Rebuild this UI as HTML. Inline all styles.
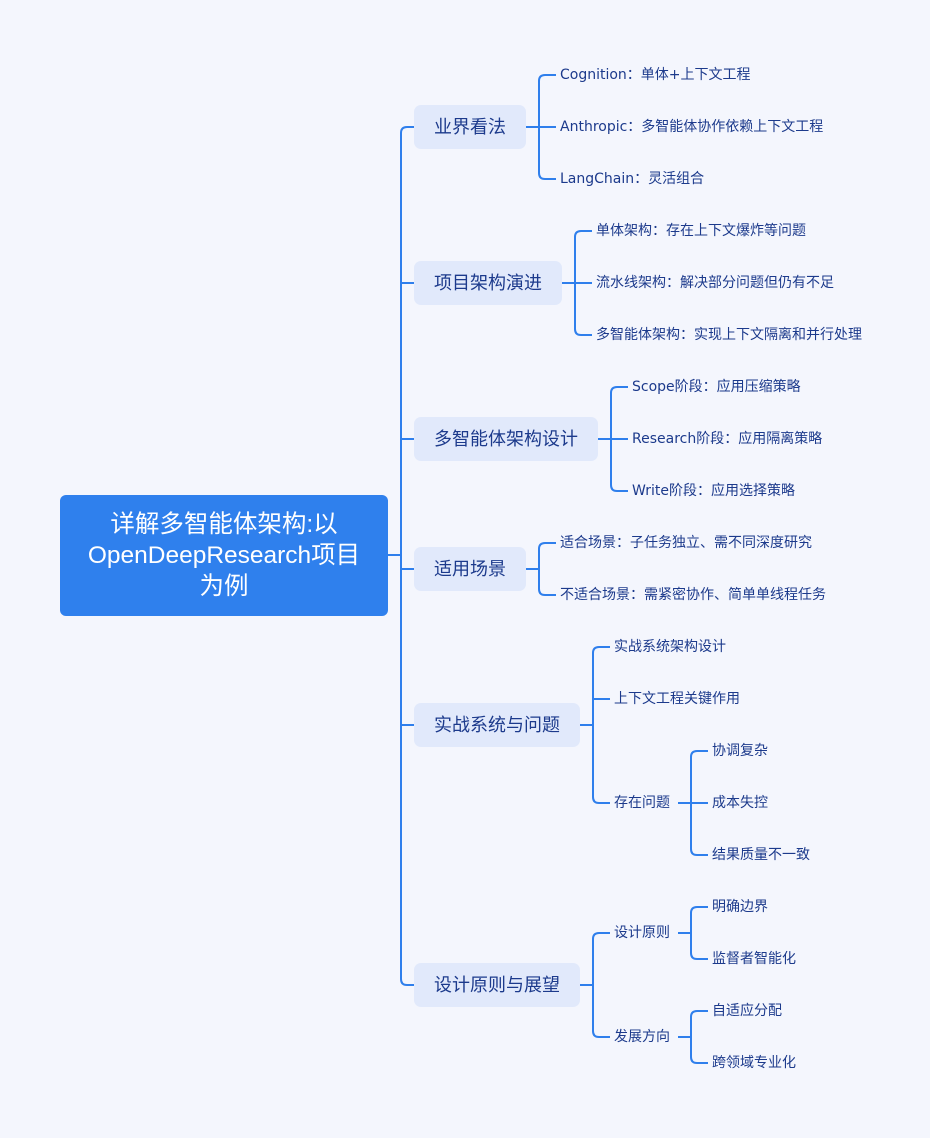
<!DOCTYPE html>
<html><head><meta charset="utf-8"><style>
body{margin:0;width:930px;height:1138px;background:#f4f6fd;position:relative;overflow:hidden;font-family:"Liberation Sans","Noto Sans CJK SC",sans-serif}
.root{position:absolute;left:60px;top:495px;width:328px;height:121px;background:#2f80ed;border-radius:6px;color:#fff;font-size:24.5px;line-height:31px;display:flex;align-items:center;justify-content:center;text-align:center}
.b{position:absolute;left:414px;height:44px;background:#e1e9fb;border-radius:7px;color:#1c3a8c;font-size:18px;line-height:44px;padding-left:20px;box-sizing:border-box}
.l{position:absolute;color:#1c3a8c;font-size:14px;line-height:20px;white-space:nowrap;font-family:"DejaVu Sans","Noto Sans CJK SC",sans-serif}
svg{position:absolute;left:0;top:0}
</style></head><body>
<svg width="930" height="1138" fill="none" stroke="#2f7fec" stroke-width="2">
<path d="M388,555H401"/>
<path d="M414,127H407Q401,127 401,133V979Q401,985 407,985H414"/>
<path d="M401,283H414M401,439H414M401,569H414M401,725H414"/>
<path d="M526,127H539M556,75H545Q539,75 539,81V173Q539,179 545,179H556M539,127H556"/>
<path d="M562,283H575M592,231H581Q575,231 575,237V329Q575,335 581,335H592M575,283H592"/>
<path d="M598,439H611M628,387H617Q611,387 611,393V485Q611,491 617,491H628M611,439H628"/>
<path d="M526,569H539M556,543H545Q539,543 539,549V589Q539,595 545,595H556"/>
<path d="M580,725H593M610,647H599Q593,647 593,653V797Q593,803 599,803H610M593,699H610"/>
<path d="M678,803H691M708,751H697Q691,751 691,757V849Q691,855 697,855H708M691,803H708"/>
<path d="M580,985H593M610,933H599Q593,933 593,939V1031Q593,1037 599,1037H610"/>
<path d="M678,933H691M708,907H697Q691,907 691,913V953Q691,959 697,959H708"/>
<path d="M678,1037H691M708,1011H697Q691,1011 691,1017V1057Q691,1063 697,1063H708"/>
</svg>
<div class="root">详解多智能体架构:以<br>OpenDeepResearch项目<br>为例</div>
<div class="b" style="top:105px;width:112px">业界看法</div>
<div class="b" style="top:261px;width:148px">项目架构演进</div>
<div class="b" style="top:417px;width:184px">多智能体架构设计</div>
<div class="b" style="top:547px;width:112px">适用场景</div>
<div class="b" style="top:703px;width:166px">实战系统与问题</div>
<div class="b" style="top:963px;width:166px">设计原则与展望</div>

<div class="l" style="left:560px;top:65px">Cognition：单体+上下文工程</div>
<div class="l" style="left:560px;top:117px">Anthropic：多智能体协作依赖上下文工程</div>
<div class="l" style="left:560px;top:169px">LangChain：灵活组合</div>
<div class="l" style="left:596px;top:221px">单体架构：存在上下文爆炸等问题</div>
<div class="l" style="left:596px;top:273px">流水线架构：解决部分问题但仍有不足</div>
<div class="l" style="left:596px;top:325px">多智能体架构：实现上下文隔离和并行处理</div>
<div class="l" style="left:632px;top:377px">Scope阶段：应用压缩策略</div>
<div class="l" style="left:632px;top:429px">Research阶段：应用隔离策略</div>
<div class="l" style="left:632px;top:481px">Write阶段：应用选择策略</div>
<div class="l" style="left:560px;top:533px">适合场景：子任务独立、需不同深度研究</div>
<div class="l" style="left:560px;top:585px">不适合场景：需紧密协作、简单单线程任务</div>
<div class="l" style="left:614px;top:637px">实战系统架构设计</div>
<div class="l" style="left:614px;top:689px">上下文工程关键作用</div>
<div class="l" style="left:614px;top:793px">存在问题</div>
<div class="l" style="left:712px;top:741px">协调复杂</div>
<div class="l" style="left:712px;top:793px">成本失控</div>
<div class="l" style="left:712px;top:845px">结果质量不一致</div>
<div class="l" style="left:614px;top:923px">设计原则</div>
<div class="l" style="left:614px;top:1027px">发展方向</div>
<div class="l" style="left:712px;top:897px">明确边界</div>
<div class="l" style="left:712px;top:949px">监督者智能化</div>
<div class="l" style="left:712px;top:1001px">自适应分配</div>
<div class="l" style="left:712px;top:1053px">跨领域专业化</div>
</body></html>
